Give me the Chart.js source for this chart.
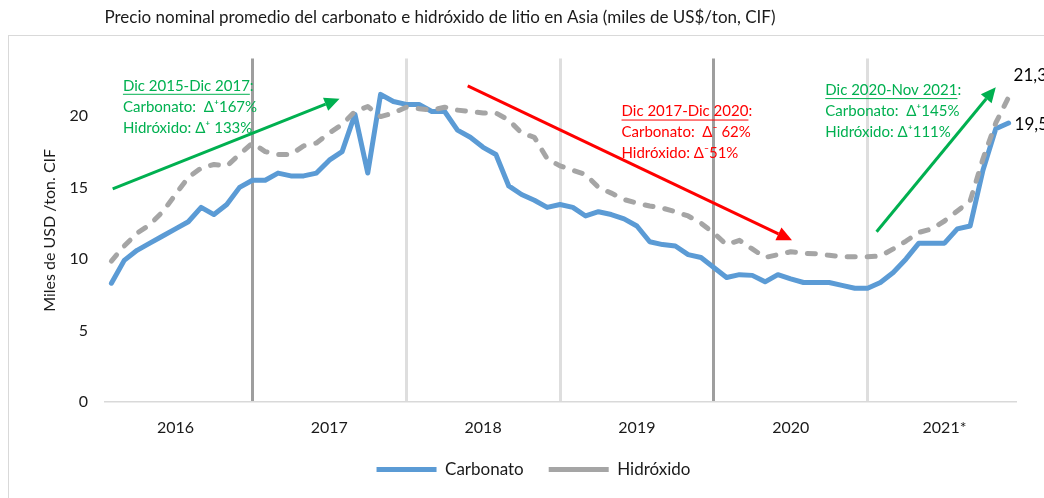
<!DOCTYPE html>
<html>
<head>
<meta charset="utf-8">
<script src="https://cdn.jsdelivr.net/npm/chart.js@4.4.1/dist/chart.umd.min.js"></script>
<style>
  html, body { margin: 0; padding: 0; background: #fff; }
  #wrap { width: 1044px; height: 498px; }
</style>
</head>
<body>
<div id="wrap"><canvas id="myChart" width="1044" height="498"></canvas></div>
<script>
// precios mensuales ene-2016 a nov-2021, miles de US$/ton CIF
const years = ['2016', '2017', '2018', '2019', '2020', '2021*'];
const months = ['Ene', 'Feb', 'Mar', 'Abr', 'May', 'Jun', 'Jul', 'Ago', 'Sep', 'Oct', 'Nov', 'Dic'];
const carbonato = [
  8.3, 9.9, 10.6, 11.1, 11.6, 12.1, 12.6, 13.6, 13.1, 13.8, 15.0, 15.5,
  15.5, 16.0, 15.8, 15.8, 16.0, 16.9, 17.5, 20.1, 16.0, 21.5, 21.0, 20.8,
  20.8, 20.3, 20.3, 19.0, 18.5, 17.8, 17.3, 15.1, 14.5, 14.1, 13.6, 13.8,
  13.6, 13.0, 13.3, 13.1, 12.8, 12.3, 11.2, 11.0, 10.9, 10.3, 10.1, 9.4,
  8.7, 8.9, 8.85, 8.4, 8.9, 8.6, 8.35, 8.35, 8.35, 8.15, 7.95, 7.95,
  8.35, 9.05, 10.0, 11.1, 11.1, 11.1, 12.1, 12.3, 16.2, 19.1, 19.5
];
const hidroxido = [
  9.85, 10.9, 11.8, 12.4, 13.3, 14.5, 15.7, 16.35, 16.6, 16.5, 17.3, 18.1,
  17.5, 17.3, 17.3, 17.9, 18.1, 18.8, 19.4, 20.3, 20.65, 19.95, 20.2, 20.6,
  20.5, 20.4, 20.6, 20.4, 20.3, 20.2, 20.2, 19.7, 18.8, 18.5, 17.0, 16.5,
  16.2, 15.9, 15.0, 14.6, 14.15, 13.9, 13.7, 13.55, 13.3, 13.0, 12.5, 11.8,
  11.0, 11.3, 10.7, 10.1, 10.3, 10.5, 10.4, 10.35, 10.25, 10.15, 10.15, 10.15,
  10.2, 10.7, 11.25, 11.85, 12.1, 12.65, 13.35, 14.05, 17.0, 19.5, 21.3
];
const yTicks = [0, 5, 10, 15, 20];

const labels = [];
years.forEach(y => months.forEach(m => {
  if (labels.length < carbonato.length) labels.push(m + '-' + y);
}));

// notas y flechas (posicion en unidades del grafico: indice de mes, valor)
const notas = [
  { x: 0.9, y: 22.1, color: '#00B050', lines: ['Dic 2015-Dic 2017:', 'Carbonato:  \u0394\u207A167%', 'Hidróxido: \u0394\u207A 133%'] },
  { x: 39.8, y: 20.3, color: '#FF0000', lines: ['Dic 2017-Dic 2020:', 'Carbonato:  \u0394\u207B 62%', 'Hidróxido: \u0394\u207B51%'] },
  { x: 55.7, y: 21.8, color: '#00B050', lines: ['Dic 2020-Nov 2021:', 'Carbonato:  \u0394\u207A145%', 'Hidróxido: \u0394\u207A111%'] }
];
const flechas = [
  { x0: 0.1, y0: 14.9, x1: 17.8, y1: 21.2, color: '#00B050' },
  { x0: 27.8, y0: 22.1, x1: 53.1, y1: 11.3, color: '#FF0000' },
  { x0: 59.7, y0: 11.9, x1: 69.0, y1: 22.0, color: '#00B050' }
];

const FONT = 'Lato';

function arrow(ctx, ax, ay, bx, by, color) {
  const ang = Math.atan2(by - ay, bx - ax);
  const head = 15, half = 7;
  const ex = bx - Math.cos(ang) * head, ey = by - Math.sin(ang) * head;
  ctx.strokeStyle = color;
  ctx.fillStyle = color;
  ctx.lineWidth = 3;
  ctx.beginPath();
  ctx.moveTo(ax, ay);
  ctx.lineTo(ex, ey);
  ctx.stroke();
  ctx.beginPath();
  ctx.moveTo(bx, by);
  ctx.lineTo(ex + Math.sin(ang) * half, ey - Math.cos(ang) * half);
  ctx.lineTo(ex - Math.sin(ang) * half, ey + Math.cos(ang) * half);
  ctx.closePath();
  ctx.fill();
}

const extras = {
  id: 'extras',
  beforeDraw(chart) {
    const ctx = chart.ctx;
    ctx.save();
    ctx.fillStyle = '#fff';
    ctx.fillRect(0, 0, chart.width, chart.height);
    ctx.strokeStyle = '#d9d9d9';
    ctx.lineWidth = 1;
    ctx.strokeRect(8.5, 35.5, 1200, 600);
    ctx.fillStyle = '#1a1a1a';
    ctx.font = '17px ' + FONT;
    ctx.textAlign = 'center';
    ctx.textBaseline = 'middle';
    ctx.fillText('Precio nominal promedio del carbonato e hidróxido de litio en Asia (miles de US$/ton, CIF)', 440, 18);
    ctx.restore();
  },
  afterLayout(chart) {
    chart.legend.left += 26;
    chart.legend.right += 26;
  },
  afterDatasetsDraw(chart) {
    const ctx = chart.ctx;
    const sx = chart.scales.x, sy = chart.scales.y;
    ctx.save();
    flechas.forEach(f => {
      arrow(ctx, sx.getPixelForValue(f.x0), sy.getPixelForValue(f.y0),
        sx.getPixelForValue(f.x1), sy.getPixelForValue(f.y1), f.color);
    });
    ctx.font = '15px ' + FONT;
    ctx.textAlign = 'left';
    ctx.textBaseline = 'middle';
    notas.forEach(n => {
      const px = sx.getPixelForValue(n.x), py = sy.getPixelForValue(n.y);
      ctx.fillStyle = n.color;
      n.lines.forEach((t, i) => ctx.fillText(t, px, py + i * 21));
      const w = ctx.measureText(n.lines[0].replace(':', '')).width;
      ctx.strokeStyle = n.color;
      ctx.lineWidth = 1;
      ctx.beginPath();
      ctx.moveTo(px, py + 8.5);
      ctx.lineTo(px + w, py + 8.5);
      ctx.stroke();
    });
    // etiquetas del ultimo dato
    ctx.fillStyle = '#000';
    ctx.font = '17px ' + FONT;
    const last = carbonato.length - 1;
    const pH = chart.getDatasetMeta(0).data[last];
    const pC = chart.getDatasetMeta(1).data[last];
    ctx.fillText(hidroxido[last].toFixed(1).replace('.', ','), pH.x + 5, pH.y - 22);
    ctx.fillText(carbonato[last].toFixed(1).replace('.', ','), pC.x + 6, pC.y + 2);
    ctx.restore();
  }
};

function draw() {
  new Chart('myChart', {
    type: 'line',
    data: {
      labels: labels,
      datasets: [{
        label: 'Hidróxido',
        data: hidroxido,
        borderColor: '#A5A5A5',
        backgroundColor: '#A5A5A5',
        borderWidth: 5,
        borderDash: [8, 12],
        borderCapStyle: 'round',
        borderJoinStyle: 'round',
        pointRadius: 0,
        pointStyle: 'line',
        tension: 0,
        fill: false
      }, {
        label: 'Carbonato',
        data: carbonato,
        borderColor: '#5B9BD5',
        backgroundColor: '#5B9BD5',
        borderWidth: 5,
        borderCapStyle: 'round',
        borderJoinStyle: 'round',
        pointRadius: 0,
        pointStyle: 'line',
        tension: 0,
        fill: false
      }]
    },
    options: {
      responsive: false,
      animation: false,
      devicePixelRatio: 1,
      layout: { padding: { left: 0, top: 58.6, right: 29, bottom: 10 } },
      plugins: {
        title: { display: false },
        tooltip: { enabled: false },
        legend: {
          position: 'bottom',
          reverse: true,
          labels: {
            usePointStyle: true,
            pointStyleWidth: 60,
            padding: 25,
            color: '#1a1a1a',
            font: { family: FONT, size: 17 }
          }
        }
      },
      scales: {
        x: {
          type: 'category',
          offset: true,
          afterFit: s => { s.height = 34; },
          grid: {
            drawTicks: false,
            color: c => c.index % 12 !== 11 ? 'rgba(0,0,0,0)' : (c.index === 11 || c.index === 47 ? '#9e9e9e' : '#dedede'),
            lineWidth: 3
          },
          border: { color: '#d9d9d9', width: 1.5 },
          ticks: {
            autoSkip: false,
            maxRotation: 0,
            padding: 16,
            color: '#1a1a1a',
            font: { family: FONT, size: 16 },
            callback: (v, i) => i % 12 === 5 ? years[Math.floor(i / 12)] : ''
          }
        },
        y: {
          min: 0,
          max: 24,
          afterFit: s => { s.width = 105; },
          afterBuildTicks: s => { s.ticks = yTicks.map(v => ({ value: v })); },
          grid: { display: false, drawTicks: false },
          border: { display: false },
          title: {
            display: true,
            text: 'Miles de USD /ton. CIF',
            color: '#1a1a1a',
            font: { family: FONT, size: 16 },
            padding: { top: 40, bottom: 0 }
          },
          ticks: {
            padding: 17,
            color: '#1a1a1a',
            font: { family: FONT, size: 16 }
          }
        }
      }
    },
    plugins: [extras]
  });
}

if (document.fonts && document.fonts.load) {
  document.fonts.load('16px Lato').then(draw, draw);
} else {
  draw();
}
</script>
</body>
</html>
